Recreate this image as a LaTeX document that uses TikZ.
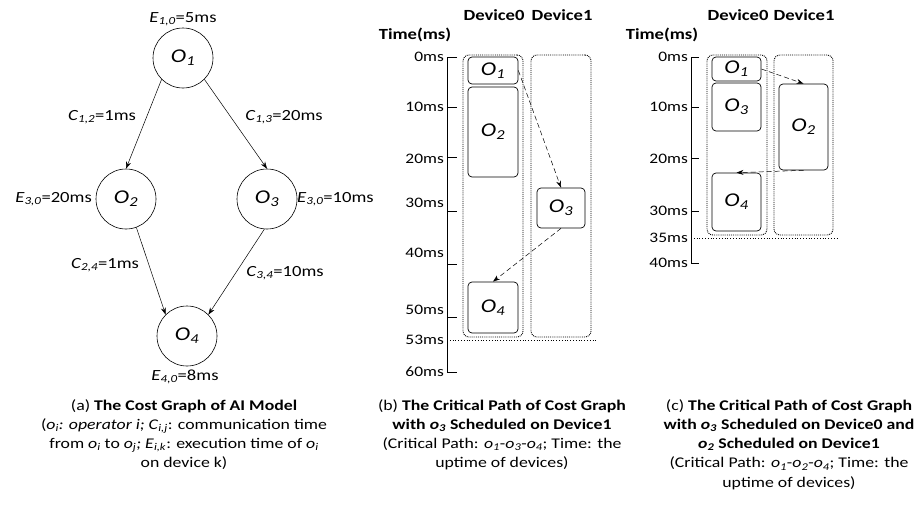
\documentclass[tikz,border=0pt]{standalone}
\usepackage{fontspec}
\setmainfont{Carlito}[FakeStretch=1.2]
\usetikzlibrary{arrows.meta}
\newcommand\opO[1]{\textit{O}\textsubscript{\textit{#1}}}
\newcommand\opo[1]{\textit{o}\textsubscript{\textit{#1}}}
\newcommand\sbs[2]{\textit{#1}\textsubscript{\textit{#2}}}
\begin{document}
\begin{tikzpicture}[x=1pt,y=-1pt,
  lbl/.style={font=\fontsize{15.5}{18}\selectfont, inner sep=0pt},
  circ/.style={draw, circle, minimum size=60pt, inner sep=0pt, font=\fontsize{19.5}{22}\selectfont, line width=0.6pt},
  opbox/.style={draw, rounded corners=4pt, inner sep=0pt, font=\fontsize{19.5}{22}\selectfont, line width=0.7pt},
  devbox/.style={draw, densely dotted, rounded corners=6pt, line width=0.9pt, inner sep=0pt},
  sarrow/.style={-{Stealth[length=7pt,width=5pt]}, line width=0.5pt},
  darrow/.style={sarrow, dash pattern=on 5pt off 3pt},
  ticklbl/.style={font=\fontsize{14.5}{16}\selectfont, anchor=east, inner sep=0pt},
  axisline/.style={line width=0.8pt},
  capt/.style={font=\fontsize{14.8}{19.3}\selectfont, align=center, inner sep=0pt, anchor=north},
  hdr/.style={font=\bfseries\fontsize{15.5}{18}\selectfont, inner sep=0pt}
]
\useasboundingbox (0,0) rectangle (915,506);

% ---------------- (a) cost graph ----------------
\node[circ] (o1) at (183,58) {\opO{1}};
\node[circ] (o2) at (126,199) {\opO{2}};
\node[circ] (o3) at (267,199) {\opO{3}};
\node[circ] (o4) at (187,336) {\opO{4}};

\draw[sarrow] (o1.225) -- (o2.north);
\draw[sarrow] (o1.315) -- (o3.north);
\draw[sarrow] (o2.290) -- (o4.135);
\draw[sarrow] (o3.265) -- (o4.45);

\node[lbl] (e1) at (183,19) {\sbs{E}{1,0}=5ms};
\node[lbl] (c12) at (102,117) {\sbs{C}{1,2}=1ms};
\node[lbl] (c13) at (284,117) {\sbs{C}{1,3}=20ms};
\node[lbl, anchor=east] (e2) at (92,199) {\sbs{E}{3,0}=20ms};
\node[lbl, anchor=west] (e3) at (297,199) {\sbs{E}{3,0}=10ms};
\node[lbl] (c24) at (105,265) {\sbs{C}{2,4}=1ms};
\node[lbl] (c34) at (285,273) {\sbs{C}{3,4}=10ms};
\node[lbl] (e4) at (185,377) {\sbs{E}{4,0}=8ms};

\node[capt] (capa) at (184,399) {(a) \textbf{The Cost Graph of AI Model}\\
(\textit{o}\textsubscript{\textit{i}}\textit{: operator i; }\sbs{C}{i,j}: communication time\\
from \opo{i} to \opo{j}\textit{; }\sbs{E}{i,k}: execution time of \opo{i}\\
on device k)};

% ---------------- (b) ----------------
\node[hdr] (hb0) at (494,15) {Device0};
\node[hdr] (hb1) at (562,15) {Device1};
\node[hdr] (htb) at (415,35) {Time(ms)};

\draw[axisline] (457,57) -- (447,57) -- (447,372) -- (457,372);
\foreach \yy in {107,157,211,264,317} \draw[axisline] (447,\yy) -- (457,\yy);
\node[ticklbl] (tb0) at (444,57) {0ms};
\node[ticklbl] (tb10) at (444,107) {10ms};
\node[ticklbl] (tb20) at (444,159) {20ms};
\node[ticklbl] (tb30) at (444,203) {30ms};
\node[ticklbl] (tb40) at (444,253) {40ms};
\node[ticklbl] (tb50) at (444,310) {50ms};
\node[ticklbl] (tb53) at (444,340) {53ms};
\node[ticklbl] (tb60) at (444,372) {60ms};
\draw[dotted, line width=0.8pt] (447,340) -- (597,340);

\node[devbox, minimum width=60pt, minimum height=282pt] (db0) at (493,196) {};
\node[devbox, minimum width=60pt, minimum height=282pt] (db1) at (561,196) {};

\node[opbox, minimum width=50pt, minimum height=27pt] (b1) at (493,70.5) {\opO{1}};
\node[opbox, minimum width=50pt, minimum height=90pt] (b2) at (493,132) {\opO{2}};
\node[opbox, minimum width=48pt, minimum height=40pt] (b3) at (561,208) {\opO{3}};
\node[opbox, minimum width=50pt, minimum height=51pt] (b4) at (493,307.5) {\opO{4}};

\draw[darrow] (b1.east) -- (b3.north);
\draw[darrow] (b3.south) -- (b4.north);

\node[capt] (capb) at (502,399) {(b) \textbf{The Critical Path of Cost Graph}\\
\textbf{with \opo{3} Scheduled on Device1}\\
(Critical Path: \opo{1}-\opo{3}-\opo{4}; Time: the\\
uptime of devices)};

% ---------------- (c) ----------------
\node[hdr] (hc0) at (738,15) {Device0};
\node[hdr] (hc1) at (804,15) {Device1};
\node[hdr] (htc) at (662,35) {Time(ms)};

\draw[axisline] (699,57) -- (691,57) -- (691,263) -- (699,263);
\foreach \yy in {107,158,211} \draw[axisline] (691,\yy) -- (699,\yy);
\node[ticklbl] (tc0) at (688,57) {0ms};
\node[ticklbl] (tc10) at (688,107) {10ms};
\node[ticklbl] (tc20) at (688,159) {20ms};
\node[ticklbl] (tc30) at (688,211) {30ms};
\node[ticklbl] (tc35) at (688,238) {35ms};
\node[ticklbl] (tc40) at (688,263) {40ms};
\draw[dotted, line width=0.8pt] (691,238) -- (837,238);

\node[devbox, minimum width=60pt, minimum height=180pt] (dc0) at (737,145) {};
\node[devbox, minimum width=59pt, minimum height=180pt] (dc1) at (803.5,145) {};

\node[opbox, minimum width=49pt, minimum height=24pt] (k1) at (736.5,69) {\opO{1}};
\node[opbox, minimum width=49pt, minimum height=48pt] (k3) at (736.5,107) {\opO{3}};
\node[opbox, minimum width=49pt, minimum height=86pt] (k2) at (803.5,127) {\opO{2}};
\node[opbox, minimum width=49pt, minimum height=58pt] (k4) at (736.5,202) {\opO{4}};

\draw[darrow] (k1.east) -- (k2.north);
\draw[darrow] (k2.south) -- (k4.north);

\node[capt] (capc) at (789,399) {(c) \textbf{The Critical Path of Cost Graph}\\
\textbf{with \opo{3} Scheduled on Device0 and}\\
\textbf{\opo{2} Scheduled on Device1}\\
(Critical Path: \opo{1}-\opo{2}-\opo{4}; Time: the\\
uptime of devices)};
\end{tikzpicture}
\end{document}
